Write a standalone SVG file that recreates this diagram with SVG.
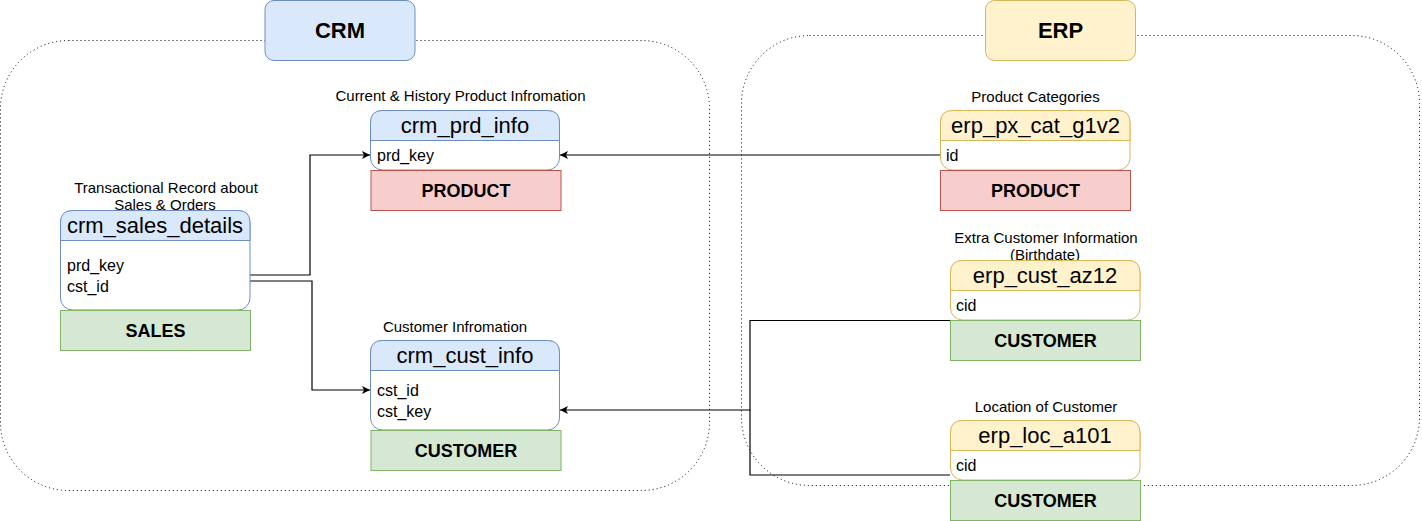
<svg xmlns="http://www.w3.org/2000/svg" width="1422" height="521" viewBox="0 0 1422 521">
<defs>
<style>
text{font-family:"Liberation Sans",Arial,sans-serif;fill:#000}
.cont{fill:none;stroke:#000;stroke-width:1;stroke-dasharray:1 3}
.title{font-size:22px;font-weight:bold;text-anchor:middle}
.lbl{font-size:15px;text-anchor:middle}
.hdr{font-size:22px;text-anchor:middle}
.fld{font-size:16px}
.tag{font-size:18px;font-weight:bold;text-anchor:middle}
.body{fill:#fff}
.blue{fill:#dae8fc;stroke:#6c8ebf}
.yel{fill:#fff2cc;stroke:#d6b656}
.red{fill:#f8cecc;stroke:#b85450}
.grn{fill:#d5e8d4;stroke:#82b366}
.bs{stroke:#6c8ebf}
.ys{stroke:#d6b656}
.edge{fill:none;stroke:#000;stroke-width:1.2}
</style>
<marker id="arr" markerUnits="userSpaceOnUse" markerWidth="9" markerHeight="9" refX="8" refY="4" orient="auto">
<path d="M0,0 L8,4 L0,8 L2,4 Z" fill="#000"/>
</marker>
</defs>

<g id="crm-container">
<rect class="cont" x="0.5" y="40.5" width="709" height="450" rx="68" ry="68"/>
</g>
<g id="erp-container">
<rect class="cont" x="741.5" y="35.5" width="678" height="450" rx="68" ry="68"/>
</g>

<g id="crm-title">
<rect class="blue" x="265" y="0.5" width="150" height="60" rx="9"/>
<text class="title" x="340" y="38">CRM</text>
</g>
<g id="erp-title">
<rect class="yel" x="985.5" y="0.5" width="150" height="60" rx="9"/>
<text class="title" x="1060.5" y="38">ERP</text>
</g>

<g id="connectors">
<path class="edge" d="M250,275 H310 V155 H370" marker-end="url(#arr)"/>
<path class="edge" d="M250,281 H312 V390 H370" marker-end="url(#arr)"/>
<path class="edge" d="M940,155 H560" marker-end="url(#arr)"/>
<path class="edge" d="M950,320.5 H750 V410 H560" marker-end="url(#arr)"/>
<path class="edge" d="M950,475 H750 V410"/>
</g>

<g id="crm_prd_info">
<text class="lbl" x="460.5" y="101">Current &amp; History Product Infromation</text>
<rect class="body bs" x="370.5" y="110.5" width="189" height="59.5" rx="12"/>
<path class="blue" d="M370.5,140.5 V122.5 Q370.5,110.5 382.5,110.5 H547.5 Q559.5,110.5 559.5,122.5 V140.5 Z"/>
<text class="hdr" x="465" y="133">crm_prd_info</text>
<text class="fld" x="377" y="161">prd_key</text>
<rect class="red" x="371" y="170.5" width="190" height="40"/>
<text class="tag" x="466" y="197">PRODUCT</text>
</g>

<g id="crm_sales_details">
<text class="lbl" x="166" y="193">Transactional Record about</text>
<text class="lbl" x="165" y="210">Sales &amp; Orders</text>
<rect class="body bs" x="60.5" y="210.5" width="189.5" height="99.5" rx="12"/>
<path class="blue" d="M60.5,240.5 V222.5 Q60.5,210.5 72.5,210.5 H238 Q250,210.5 250,222.5 V240.5 Z"/>
<text class="hdr" x="155" y="233">crm_sales_details</text>
<text class="fld" x="67" y="271">prd_key</text>
<text class="fld" x="67" y="292">cst_id</text>
<rect class="grn" x="60.5" y="310.5" width="190" height="40"/>
<text class="tag" x="155.5" y="337">SALES</text>
</g>

<g id="crm_cust_info">
<text class="lbl" x="455" y="332">Customer Infromation</text>
<rect class="body bs" x="370.5" y="340.5" width="189" height="89.5" rx="12"/>
<path class="blue" d="M370.5,370.5 V352.5 Q370.5,340.5 382.5,340.5 H547.5 Q559.5,340.5 559.5,352.5 V370.5 Z"/>
<text class="hdr" x="465" y="363">crm_cust_info</text>
<text class="fld" x="377" y="396">cst_id</text>
<text class="fld" x="377" y="417">cst_key</text>
<rect class="grn" x="371" y="430.5" width="190" height="40"/>
<text class="tag" x="466" y="457">CUSTOMER</text>
</g>

<g id="erp_px_cat_g1v2">
<text class="lbl" x="1035.5" y="102">Product Categories</text>
<rect class="body ys" x="940.5" y="110.5" width="189.5" height="59.5" rx="12"/>
<path class="yel" d="M940.5,140.5 V122.5 Q940.5,110.5 952.5,110.5 H1118 Q1130,110.5 1130,122.5 V140.5 Z"/>
<text class="hdr" x="1035.5" y="133">erp_px_cat_g1v2</text>
<text class="fld" x="946" y="161">id</text>
<rect class="red" x="940.5" y="170.5" width="190" height="40"/>
<text class="tag" x="1035.5" y="197">PRODUCT</text>
</g>

<g id="erp_cust_az12">
<text class="lbl" x="1046" y="243">Extra Customer Information</text>
<text class="lbl" x="1045" y="260">(Birthdate)</text>
<rect class="body ys" x="950.5" y="260.5" width="189.5" height="59.5" rx="12"/>
<path class="yel" d="M950.5,290.5 V272.5 Q950.5,260.5 962.5,260.5 H1128 Q1140,260.5 1140,272.5 V290.5 Z"/>
<text class="hdr" x="1045" y="283">erp_cust_az12</text>
<text class="fld" x="956" y="311">cid</text>
<rect class="grn" x="950.5" y="320.5" width="190" height="40"/>
<text class="tag" x="1045.5" y="347">CUSTOMER</text>
</g>

<g id="erp_loc_a101">
<text class="lbl" x="1046" y="412">Location of Customer</text>
<rect class="body ys" x="950.5" y="420.5" width="189.5" height="59.5" rx="12"/>
<path class="yel" d="M950.5,450.5 V432.5 Q950.5,420.5 962.5,420.5 H1128 Q1140,420.5 1140,432.5 V450.5 Z"/>
<text class="hdr" x="1045" y="443">erp_loc_a101</text>
<text class="fld" x="956" y="471">cid</text>
<rect class="grn" x="950.5" y="480.5" width="190" height="40"/>
<text class="tag" x="1045.5" y="507">CUSTOMER</text>
</g>
</svg>
